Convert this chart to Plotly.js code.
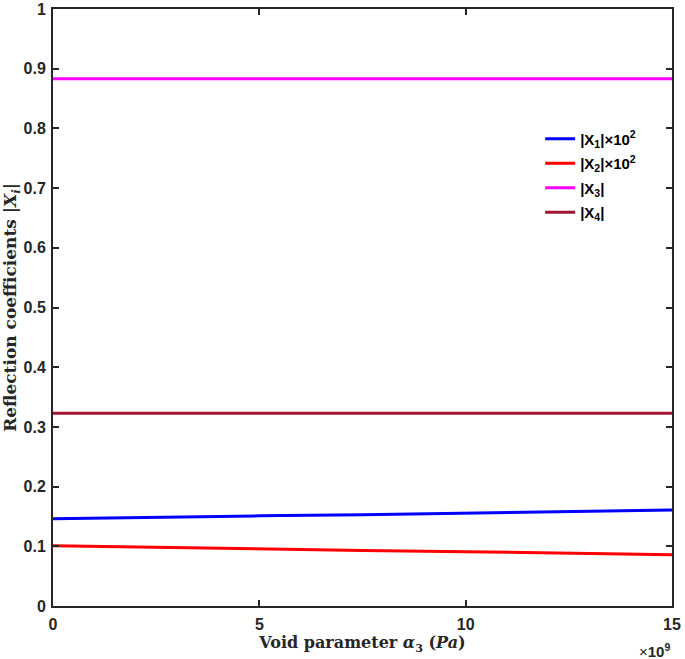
<!DOCTYPE html>
<html>
<head>
<meta charset="utf-8">
<script src="https://cdn.plot.ly/plotly-3.0.1.min.js"></script>
<style>
  html, body { margin: 0; padding: 0; background: #fff; }
  #chart { width: 685px; height: 659px; }
</style>
</head>
<body>
<div id="chart"></div>
<script>
// void parameter alpha_3, in units of 1e9 Pa
const alpha3 = [0, 2.5, 5, 7.5, 10, 12.5, 15];

const x1Scaled = [0.146, 0.149, 0.151, 0.153, 0.156, 0.158, 0.161];
const x2Scaled = [0.101, 0.098, 0.096, 0.093, 0.091, 0.088, 0.086];
const x3 = [0.883, 0.883, 0.883, 0.883, 0.883, 0.883, 0.883];
const x4 = [0.323, 0.323, 0.323, 0.323, 0.323, 0.323, 0.323];

const seriesNames = [
  "|X<sub>1</sub>|×10<sup>2</sup>",
  "|X<sub>2</sub>|×10<sup>2</sup>",
  "|X<sub>3</sub>|",
  "|X<sub>4</sub>|",
];
const seriesColors = ["#0000ff", "#ff0000", "#ff00ff", "#a2142f"];
const xTicks = [0, 5, 10, 15];
const yTicks = [0, 0.1, 0.2, 0.3, 0.4, 0.5, 0.6, 0.7, 0.8, 0.9, 1];

const sans = "Liberation Sans, Arial, sans-serif";
const serif = "DejaVu Serif, Liberation Serif, serif";
const axisColor = "#262626";

const traces = [x1Scaled, x2Scaled, x3, x4].map((ys, i) => ({
  x: alpha3,
  y: ys,
  name: seriesNames[i],
  legendgroup: "g" + i,
  mode: "lines",
  type: "scatter",
  line: { color: seriesColors[i], width: 3 },
}));

const axisBase = {
  showline: true,
  linecolor: axisColor,
  linewidth: 2,
  mirror: "ticks",
  ticks: "inside",
  ticklen: 6,
  tickwidth: 2,
  tickcolor: axisColor,
  showgrid: false,
  zeroline: false,
  ticklabeloverflow: "allow",
  tickfont: { family: sans, size: 16, color: axisColor, weight: "bold" },
};

const layout = {
  width: 685,
  height: 659,
  margin: { l: 53, r: 13, t: 9, b: 53 },
  paper_bgcolor: "#fff",
  plot_bgcolor: "#fff",
  showlegend: true,
  legend: {
    x: 0.787,
    y: 0.81,
    xanchor: "left",
    yanchor: "top",
    bgcolor: "rgba(0,0,0,0)",
    borderwidth: 0,
    font: { family: sans, size: 15, color: "#000", weight: "bold" },
    tracegroupgap: 2,
  },
  xaxis: {
    ...axisBase,
    range: [0, 15],
    tickvals: xTicks,
    ticktext: xTicks.map(String),
    ticklabelstandoff: 3,
    title: {
      text: "<b>Void parameter <i>α</i><sub>3</sub> (<i>Pa</i>)</b>",
      font: { family: serif, size: 16, color: axisColor },
      standoff: 2,
    },
  },
  yaxis: {
    ...axisBase,
    range: [0, 1],
    tickvals: yTicks,
    ticktext: yTicks.map(String),
    ticklabelstandoff: 2,
    title: {
      text: "<b>Reflection coefficients |<i>X<sub>i</sub></i>|</b>",
      font: { family: serif, size: 17, color: axisColor },
      standoff: 4,
    },
  },
  annotations: [
    {
      xref: "paper",
      yref: "paper",
      x: 1.0,
      y: -0.055,
      xanchor: "right",
      yanchor: "top",
      showarrow: false,
      text: "×<b>10<sup>9</sup></b>",
      font: { family: sans, size: 15, color: axisColor },
    },
  ],
};

Plotly.newPlot("chart", traces, layout, { displayModeBar: false, staticPlot: true });
</script>
</body>
</html>
